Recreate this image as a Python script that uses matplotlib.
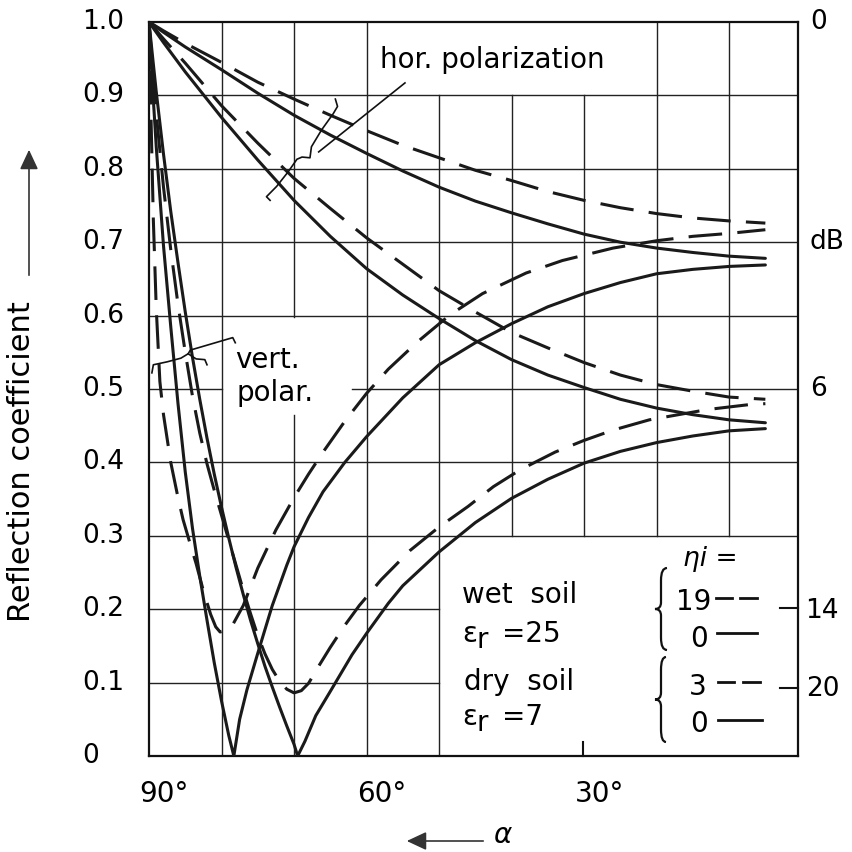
import matplotlib
matplotlib.use('Agg')
import matplotlib.pyplot as plt
from matplotlib.patches import FancyArrowPatch, PathPatch
from matplotlib.path import Path
from matplotlib.lines import Line2D
from matplotlib.transforms import blended_transform_factory

plt.rcParams['font.family'] = ['DejaVu Sans']

# ---------------- data ----------------
alpha_hor = [90, 88, 85, 80, 75, 70, 65, 60, 55, 50, 45, 40, 35, 30, 25, 20, 15, 10, 5]
hor_wet_0 = [1.000, 0.986, 0.966, 0.935, 0.903, 0.873, 0.846, 0.821, 0.797, 0.775,
             0.756, 0.740, 0.725, 0.711, 0.700, 0.692, 0.686, 0.681, 0.678]
hor_wet_19 = [1.000, 0.988, 0.971, 0.945, 0.918, 0.895, 0.873, 0.852, 0.832, 0.815,
              0.798, 0.784, 0.769, 0.757, 0.747, 0.739, 0.733, 0.729, 0.726]
hor_dry_0 = [1.000, 0.972, 0.932, 0.870, 0.812, 0.757, 0.708, 0.664, 0.628, 0.596,
             0.566, 0.540, 0.519, 0.502, 0.486, 0.474, 0.465, 0.458, 0.454]
hor_dry_3 = [1.000, 0.977, 0.944, 0.886, 0.835, 0.787, 0.746, 0.706, 0.670, 0.634,
             0.605, 0.577, 0.556, 0.536, 0.519, 0.506, 0.497, 0.489, 0.486]

alpha_vert_wet_0 = [90, 89.5, 89, 88, 87, 86, 85, 84, 83, 82, 81, 80, 79, 78.3, 77.5, 76.5,
                    75, 73, 71, 70, 68, 66, 63, 60, 55, 50, 45, 40, 35, 30, 25, 20, 15, 10, 5]
vert_wet_0 = [1.0, 0.91, 0.83, 0.695, 0.585, 0.48, 0.387, 0.310, 0.245, 0.185, 0.127,
              0.075, 0.028, 0.0, 0.05, 0.09, 0.14, 0.205, 0.26, 0.285, 0.325, 0.36, 0.40,
              0.435, 0.488, 0.533, 0.563, 0.589, 0.612, 0.630, 0.645, 0.657, 0.663, 0.667, 0.669]

alpha_vert_wet_19 = [90, 89.7, 89.4, 89.0, 88.5, 88, 87, 86, 85.3, 84.5, 83.5, 82.5, 81.5,
                     80.8, 80.2, 79.3, 78.5, 77, 75, 72.5, 70, 68, 66, 63, 60, 57, 53, 48.5,
                     44, 38, 33, 26, 20, 15, 10, 5]
vert_wet_19 = [1.0, 0.86, 0.73, 0.61, 0.51, 0.465, 0.40, 0.352, 0.322, 0.295, 0.262, 0.225,
               0.193, 0.176, 0.169, 0.171, 0.178, 0.205, 0.256, 0.308, 0.352, 0.384, 0.414,
               0.456, 0.494, 0.527, 0.564, 0.601, 0.630, 0.658, 0.675, 0.692, 0.702, 0.708,
               0.712, 0.717]

alpha_vert_dry_0 = [90, 89.5, 89, 88, 87, 86, 85, 84, 83, 82, 81, 80, 79, 78, 77, 76, 75, 74,
                    73, 72, 71, 70, 69.5, 68.5, 67, 65, 62, 60, 57, 55, 50, 45, 40, 35, 30,
                    25, 20, 15, 10, 5]
vert_dry_0 = [1.0, 0.952, 0.905, 0.82, 0.742, 0.672, 0.605, 0.543, 0.486, 0.433, 0.384,
              0.339, 0.297, 0.257, 0.220, 0.185, 0.153, 0.122, 0.094, 0.067, 0.041, 0.016,
              0.0, 0.02, 0.055, 0.088, 0.138, 0.167, 0.208, 0.232, 0.278, 0.318, 0.351,
              0.377, 0.399, 0.415, 0.427, 0.436, 0.443, 0.446]

alpha_vert_dry_3 = [90, 89, 88, 87, 86, 85, 84, 83, 82, 81, 80, 79, 78, 77, 76, 75, 74,
                    73, 72, 71, 70, 69, 68, 66.5, 65, 63, 61, 58, 54, 50, 46, 42.5, 38.8, 34,
                    30, 26, 21, 13, 7, 5]
vert_dry_3 = [1.0, 0.875, 0.775, 0.69, 0.615, 0.55, 0.49, 0.44, 0.398, 0.362, 0.328,
              0.294, 0.26, 0.226, 0.194, 0.164, 0.139, 0.118, 0.102, 0.091, 0.086, 0.089,
              0.099, 0.124, 0.148, 0.178, 0.205, 0.24, 0.28, 0.312, 0.340, 0.367, 0.390,
              0.414, 0.43, 0.444, 0.458, 0.472, 0.479, 0.48]

x_ticks = [90, 60, 30]
x_tick_labels = ['90°', '60°', '30°']
y_ticks = [0, 0.1, 0.2, 0.3, 0.4, 0.5, 0.6, 0.7, 0.8, 0.9, 1.0]
y_tick_labels = ['0', '0.1', '0.2', '0.3', '0.4', '0.5', '0.6', '0.7', '0.8', '0.9', '1.0']
db_ticks = [1.0, 0.7, 0.5]
db_labels = ['0', 'dB', '6']

# ---------------- figure ----------------
W, H = 853, 852
fig = plt.figure(figsize=(W / 100, H / 100), dpi=100)
fig.patch.set_facecolor('white')
ax = fig.add_axes([149 / W, 1 - 756 / H, 649 / W, 734 / H])
ax.set_xlim(90, 0.5)
ax.set_ylim(0, 1)
ax.set_xticks([])
ax.set_yticks([])
for s in ax.spines.values():
    s.set_linewidth(1.6)
    s.set_color('#111111')

def fx(px):
    return px / W

def fy(py):
    return 1 - py / H

# grid with gaps (label areas)
gk = dict(color='#222222', lw=1.0, zorder=1)
vsegs = {80: [(0, 1)], 70: [(0, 0.465), (0.598, 1)], 60: [(0, 1)], 50: [(0, 0.9)],
         40: [(0.3, 0.9)], 30: [(0.3, 0.9)], 20: [(0.3, 1)], 10: [(0.3, 1)]}
for x, segs in vsegs.items():
    for a, b in segs:
        ax.plot([x, x], [a, b], **gk)
hsegs = {0.9: [(90, 0.5)], 0.8: [(90, 0.5)], 0.7: [(90, 0.5)], 0.6: [(90, 0.5)],
         0.5: [(90, 80), (62, 0.5)], 0.4: [(90, 0.5)], 0.3: [(90, 0.5)],
         0.2: [(90, 50)], 0.1: [(90, 50)]}
for y, segs in hsegs.items():
    for a, b in segs:
        ax.plot([a, b], [y, y], **gk)

# curves
ck = dict(color='#1a1a1a', lw=2.2, zorder=3, solid_capstyle='round')
dash = (0, (11, 5))
ax.plot(alpha_hor, hor_wet_0, **ck)
ax.plot(alpha_hor, hor_wet_19, ls=dash, **ck)
ax.plot(alpha_hor, hor_dry_0, **ck)
ax.plot(alpha_hor, hor_dry_3, ls=dash, **ck)
ax.plot(alpha_vert_wet_0, vert_wet_0, **ck)
ax.plot(alpha_vert_wet_19, vert_wet_19, ls=dash, **ck)
ax.plot(alpha_vert_dry_0, vert_dry_0, **ck)
ax.plot(alpha_vert_dry_3, vert_dry_3, ls=dash, **ck)

# annotation leaders
lk = dict(color='#111111', lw=1.2, zorder=4)
ax.plot([54.7, 66.6], [0.917, 0.823], **lk)
ax.plot([64.3, 64.0, 64.6, 66.2, 67.6, 67.8, 68.9, 69.6, 70.8, 72.4, 73.8, 73.3],
        [0.895, 0.885, 0.875, 0.853, 0.830, 0.815, 0.816, 0.813, 0.796, 0.776, 0.762, 0.757], **lk)
ax.plot([89.6, 89.4, 87.5, 85.6, 84.6, 83.5, 82.3, 82.0],
        [0.522, 0.533, 0.537, 0.542, 0.548, 0.541, 0.540, 0.533], **lk)
ax.plot([84.6, 84.3, 78.45, 78.1], [0.548, 0.553, 0.570, 0.563], **lk)

FS = 19
# y tick labels (left) and dB labels (right)
ytr = blended_transform_factory(ax.transAxes, ax.transData)
for v, lab in zip(y_ticks, y_tick_labels):
    ax.text((82 - 149) / 649, v, lab, transform=ytr, ha='left', va='center', fontsize=FS)
for v, lab in zip(db_ticks, db_labels):
    ax.text((810 - 149) / 649, v, lab, transform=ytr, ha='left', va='center', fontsize=FS)
fig.text(fx(805), fy(611), '14', ha='left', va='center', fontsize=FS)
fig.text(fx(806), fy(689), '20', ha='left', va='center', fontsize=FS)
for py in (608, 688):
    fig.add_artist(Line2D([fx(780), fx(798)], [fy(py), fy(py)], color='#111111', lw=1.5))
# small tick at 30 deg
fig.add_artist(Line2D([fx(583), fx(583)], [fy(756), fy(742)], color='#111111', lw=1.5))

# x tick labels
xtr = ax.get_xaxis_transform()
for v, lab in zip(x_ticks, x_tick_labels):
    ax.text(v + 1.3, (756 - 802) / 734, lab, transform=xtr, ha='left', va='baseline',
            fontsize=FS + 1)

# axis titles and arrows
fig.text(fx(22), fy(462), 'Reflection coefficient', rotation=90, ha='center', va='center',
         fontsize=22)
fig.add_artist(FancyArrowPatch((fx(29), fy(278)), (fx(29), fy(147)), transform=fig.transFigure,
                               arrowstyle='-|>,head_length=0.6,head_width=0.28',
                               mutation_scale=20, color='#333333', lw=1.2))
fig.add_artist(FancyArrowPatch((fx(486), fy(841)), (fx(404), fy(841)), transform=fig.transFigure,
                               arrowstyle='-|>,head_length=0.6,head_width=0.28',
                               mutation_scale=20, color='#333333', lw=1.2))
fig.text(fx(493), fy(843), 'α', ha='left', va='baseline', fontsize=20, style='italic')

# in-plot labels
TS = 20
fig.text(fx(380), fy(68), 'hor. polarization', ha='left', va='baseline', fontsize=TS)
fig.text(fx(235), fy(368), 'vert.', ha='left', va='baseline', fontsize=TS)
fig.text(fx(237), fy(401), 'polar.', ha='left', va='baseline', fontsize=TS)

fig.text(fx(462), fy(603), 'wet  soil', ha='left', va='baseline', fontsize=TS)
fig.text(fx(462), fy(642), 'ε', ha='left', va='baseline', fontsize=TS)
fig.text(fx(477), fy(648), 'r', ha='left', va='baseline', fontsize=TS)
fig.text(fx(502), fy(642), '=25', ha='left', va='baseline', fontsize=TS)
fig.text(fx(464), fy(690), 'dry  soil', ha='left', va='baseline', fontsize=TS)
fig.text(fx(462), fy(725), 'ε', ha='left', va='baseline', fontsize=TS)
fig.text(fx(477), fy(731), 'r', ha='left', va='baseline', fontsize=TS)
fig.text(fx(502), fy(725), '=7', ha='left', va='baseline', fontsize=TS)

fig.text(fx(683), fy(566), 'ηi =', ha='left', va='baseline', fontsize=19, style='italic')
fig.text(fx(676), fy(610), '19', ha='left', va='baseline', fontsize=TS)
fig.text(fx(690), fy(647), '0', ha='left', va='baseline', fontsize=TS)
fig.text(fx(689), fy(695), '3', ha='left', va='baseline', fontsize=TS)
fig.text(fx(690), fy(732), '0', ha='left', va='baseline', fontsize=TS)
sk = dict(color='#111111', lw=2.0)
for (a, b), py in [((716, 732), 598), ((740, 757), 598), ((718, 734), 682), ((743, 760), 682)]:
    fig.add_artist(Line2D([fx(a), fx(b)], [fy(py), fy(py)], **sk))
for (a, b), py in [((717, 757), 633), ((718, 762), 720)]:
    fig.add_artist(Line2D([fx(a), fx(b)], [fy(py), fy(py)], **sk))

def brace(xr, xm, xl, yt, yb):
    ym = (yt + yb) / 2
    h = yb - yt
    pts = [(xr, yt), (xm, yt), (xm, yt + 0.15 * h), (xm, ym - 0.08 * h), (xm, ym), (xl, ym),
           (xm, ym), (xm, ym + 0.08 * h), (xm, yb - 0.15 * h), (xm, yb), (xr, yb)]
    codes = [Path.MOVETO, Path.CURVE3, Path.CURVE3, Path.LINETO, Path.CURVE3, Path.CURVE3,
             Path.CURVE3, Path.CURVE3, Path.LINETO, Path.CURVE3, Path.CURVE3]
    p = Path([(fx(x), fy(y)) for x, y in pts], codes)
    fig.add_artist(PathPatch(p, transform=fig.transFigure, fill=False, lw=1.6,
                             edgecolor='#111111'))

brace(667, 661, 655, 568, 650)
brace(666, 661, 655, 657, 742)

fig.savefig('out.png', dpi=100, facecolor='white')
